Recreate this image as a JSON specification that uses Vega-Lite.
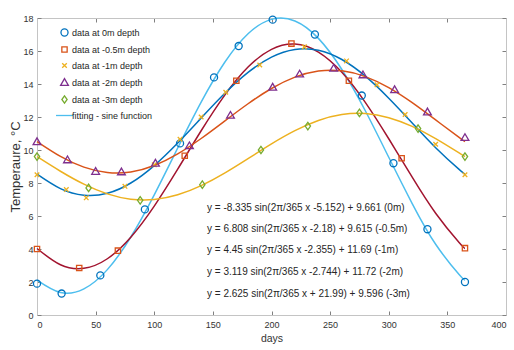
{
  "$schema": "https://vega.github.io/schema/vega-lite/v6.json",
  "width": 469,
  "height": 297,
  "autosize": {"type": "none"},
  "padding": {"left": 37, "top": 18, "right": 8, "bottom": 35},
  "background": "white",
  "config": {
    "font": "Liberation Sans",
    "view": {"stroke": null},
    "axis": {
      "grid": false,
      "domainColor": "#c4c4c4",
      "tickColor": "#808080",
      "labelColor": "#333333",
      "labelFontSize": 9,
      "labelFont": "Liberation Sans",
      "titleFont": "Liberation Sans",
      "titleFontWeight": "normal",
      "titleColor": "#333333",
      "tickSize": -4
    }
  },
  "datasets": {
    "points": [
      {"series": "data at 0m depth", "day": 0, "temp": 1.9},
      {"series": "data at 0m depth", "day": 21, "temp": 1.3},
      {"series": "data at 0m depth", "day": 54, "temp": 2.4},
      {"series": "data at 0m depth", "day": 92, "temp": 6.4},
      {"series": "data at 0m depth", "day": 122, "temp": 10.4},
      {"series": "data at 0m depth", "day": 151, "temp": 14.4},
      {"series": "data at 0m depth", "day": 172, "temp": 16.3},
      {"series": "data at 0m depth", "day": 201, "temp": 17.9},
      {"series": "data at 0m depth", "day": 237, "temp": 17.0},
      {"series": "data at 0m depth", "day": 277, "temp": 13.3},
      {"series": "data at 0m depth", "day": 304, "temp": 9.2},
      {"series": "data at 0m depth", "day": 333, "temp": 5.2},
      {"series": "data at 0m depth", "day": 365, "temp": 2.0},
      {"series": "data at -0.5m depth", "day": 0, "temp": 4.0},
      {"series": "data at -0.5m depth", "day": 36, "temp": 2.85},
      {"series": "data at -0.5m depth", "day": 69, "temp": 3.9},
      {"series": "data at -0.5m depth", "day": 126, "temp": 9.65},
      {"series": "data at -0.5m depth", "day": 170, "temp": 14.2},
      {"series": "data at -0.5m depth", "day": 217, "temp": 16.45},
      {"series": "data at -0.5m depth", "day": 266, "temp": 14.2},
      {"series": "data at -0.5m depth", "day": 311, "temp": 9.5},
      {"series": "data at -0.5m depth", "day": 365, "temp": 4.05},
      {"series": "data at -1m depth", "day": 0, "temp": 8.5},
      {"series": "data at -1m depth", "day": 25, "temp": 7.6},
      {"series": "data at -1m depth", "day": 42, "temp": 7.1},
      {"series": "data at -1m depth", "day": 75, "temp": 7.8},
      {"series": "data at -1m depth", "day": 100, "temp": 9.1},
      {"series": "data at -1m depth", "day": 122, "temp": 10.65},
      {"series": "data at -1m depth", "day": 140, "temp": 12.0},
      {"series": "data at -1m depth", "day": 161, "temp": 13.5},
      {"series": "data at -1m depth", "day": 190, "temp": 15.15},
      {"series": "data at -1m depth", "day": 228, "temp": 16.25},
      {"series": "data at -1m depth", "day": 264, "temp": 15.4},
      {"series": "data at -1m depth", "day": 290, "temp": 13.95},
      {"series": "data at -1m depth", "day": 314, "temp": 12.15},
      {"series": "data at -1m depth", "day": 340, "temp": 10.35},
      {"series": "data at -1m depth", "day": 365, "temp": 8.5},
      {"series": "data at -2m depth", "day": 0, "temp": 10.5},
      {"series": "data at -2m depth", "day": 26, "temp": 9.4},
      {"series": "data at -2m depth", "day": 50, "temp": 8.7},
      {"series": "data at -2m depth", "day": 72, "temp": 8.67},
      {"series": "data at -2m depth", "day": 101, "temp": 9.2},
      {"series": "data at -2m depth", "day": 130, "temp": 10.25},
      {"series": "data at -2m depth", "day": 165, "temp": 12.1},
      {"series": "data at -2m depth", "day": 201, "temp": 13.8},
      {"series": "data at -2m depth", "day": 224, "temp": 14.6},
      {"series": "data at -2m depth", "day": 253, "temp": 14.95},
      {"series": "data at -2m depth", "day": 278, "temp": 14.55},
      {"series": "data at -2m depth", "day": 305, "temp": 13.65},
      {"series": "data at -2m depth", "day": 333, "temp": 12.3},
      {"series": "data at -2m depth", "day": 365, "temp": 10.75},
      {"series": "data at -3m depth", "day": 0, "temp": 9.6},
      {"series": "data at -3m depth", "day": 44, "temp": 7.7},
      {"series": "data at -3m depth", "day": 88, "temp": 6.95},
      {"series": "data at -3m depth", "day": 141, "temp": 7.9},
      {"series": "data at -3m depth", "day": 191, "temp": 10.0},
      {"series": "data at -3m depth", "day": 231, "temp": 11.45},
      {"series": "data at -3m depth", "day": 275, "temp": 12.25},
      {"series": "data at -3m depth", "day": 325, "temp": 11.3},
      {"series": "data at -3m depth", "day": 365, "temp": 9.6}
    ],
    "fits": [
      {"fit": "0m", "day": 0, "temp": 2.118}, {"fit": "0m", "day": 20, "temp": 1.364}, {"fit": "0m", "day": 40, "temp": 1.583}, {"fit": "0m", "day": 60, "temp": 2.75}, {"fit": "0m", "day": 80, "temp": 4.728}, {"fit": "0m", "day": 100, "temp": 7.286}, {"fit": "0m", "day": 120, "temp": 10.122}, {"fit": "0m", "day": 140, "temp": 12.903}, {"fit": "0m", "day": 160, "temp": 15.303}, {"fit": "0m", "day": 180, "temp": 17.044}, {"fit": "0m", "day": 200, "temp": 17.916}, {"fit": "0m", "day": 220, "temp": 17.82}, {"fit": "0m", "day": 240, "temp": 16.766}, {"fit": "0m", "day": 260, "temp": 14.878}, {"fit": "0m", "day": 280, "temp": 12.378}, {"fit": "0m", "day": 300, "temp": 9.559}, {"fit": "0m", "day": 320, "temp": 6.753}, {"fit": "0m", "day": 340, "temp": 4.287}, {"fit": "0m", "day": 360, "temp": 2.455}, {"fit": "0m", "day": 365, "temp": 2.118},
      {"fit": "-0.5m", "day": 0, "temp": 4.03}, {"fit": "-0.5m", "day": 20, "temp": 3.044}, {"fit": "-0.5m", "day": 40, "temp": 2.828}, {"fit": "-0.5m", "day": 60, "temp": 3.409}, {"fit": "-0.5m", "day": 80, "temp": 4.718}, {"fit": "-0.5m", "day": 100, "temp": 6.601}, {"fit": "-0.5m", "day": 120, "temp": 8.838}, {"fit": "-0.5m", "day": 140, "temp": 11.167}, {"fit": "-0.5m", "day": 160, "temp": 13.313}, {"fit": "-0.5m", "day": 180, "temp": 15.027}, {"fit": "-0.5m", "day": 200, "temp": 16.102}, {"fit": "-0.5m", "day": 220, "temp": 16.418}, {"fit": "-0.5m", "day": 240, "temp": 15.936}, {"fit": "-0.5m", "day": 260, "temp": 14.711}, {"fit": "-0.5m", "day": 280, "temp": 12.889}, {"fit": "-0.5m", "day": 300, "temp": 10.682}, {"fit": "-0.5m", "day": 320, "temp": 8.351}, {"fit": "-0.5m", "day": 340, "temp": 6.167}, {"fit": "-0.5m", "day": 360, "temp": 4.388}, {"fit": "-0.5m", "day": 365, "temp": 4.03},
      {"fit": "-1m", "day": 0, "temp": 8.541}, {"fit": "-1m", "day": 20, "temp": 7.663}, {"fit": "-1m", "day": 40, "temp": 7.26}, {"fit": "-1m", "day": 60, "temp": 7.376}, {"fit": "-1m", "day": 80, "temp": 8.0}, {"fit": "-1m", "day": 100, "temp": 9.056}, {"fit": "-1m", "day": 120, "temp": 10.42}, {"fit": "-1m", "day": 140, "temp": 11.934}, {"fit": "-1m", "day": 160, "temp": 13.42}, {"fit": "-1m", "day": 180, "temp": 14.701}, {"fit": "-1m", "day": 200, "temp": 15.631}, {"fit": "-1m", "day": 220, "temp": 16.097}, {"fit": "-1m", "day": 240, "temp": 16.046}, {"fit": "-1m", "day": 260, "temp": 15.484}, {"fit": "-1m", "day": 280, "temp": 14.477}, {"fit": "-1m", "day": 300, "temp": 13.142}, {"fit": "-1m", "day": 320, "temp": 11.637}, {"fit": "-1m", "day": 340, "temp": 10.139}, {"fit": "-1m", "day": 360, "temp": 8.822}, {"fit": "-1m", "day": 365, "temp": 8.541},
      {"fit": "-2m", "day": 0, "temp": 10.512}, {"fit": "-2m", "day": 20, "temp": 9.613}, {"fit": "-2m", "day": 40, "temp": 8.96}, {"fit": "-2m", "day": 60, "temp": 8.632}, {"fit": "-2m", "day": 80, "temp": 8.666}, {"fit": "-2m", "day": 100, "temp": 9.059}, {"fit": "-2m", "day": 120, "temp": 9.763}, {"fit": "-2m", "day": 140, "temp": 10.697}, {"fit": "-2m", "day": 160, "temp": 11.752}, {"fit": "-2m", "day": 180, "temp": 12.803}, {"fit": "-2m", "day": 200, "temp": 13.727}, {"fit": "-2m", "day": 220, "temp": 14.415}, {"fit": "-2m", "day": 240, "temp": 14.787}, {"fit": "-2m", "day": 260, "temp": 14.799}, {"fit": "-2m", "day": 280, "temp": 14.449}, {"fit": "-2m", "day": 300, "temp": 13.78}, {"fit": "-2m", "day": 320, "temp": 12.869}, {"fit": "-2m", "day": 340, "temp": 11.823}, {"fit": "-2m", "day": 360, "temp": 10.764}, {"fit": "-2m", "day": 365, "temp": 10.512},
      {"fit": "-3m", "day": 0, "temp": 9.599}, {"fit": "-3m", "day": 20, "temp": 8.713}, {"fit": "-3m", "day": 40, "temp": 7.93}, {"fit": "-3m", "day": 60, "temp": 7.343}, {"fit": "-3m", "day": 80, "temp": 7.021}, {"fit": "-3m", "day": 100, "temp": 7.0}, {"fit": "-3m", "day": 120, "temp": 7.284}, {"fit": "-3m", "day": 140, "temp": 7.84}, {"fit": "-3m", "day": 160, "temp": 8.601}, {"fit": "-3m", "day": 180, "temp": 9.48}, {"fit": "-3m", "day": 200, "temp": 10.372}, {"fit": "-3m", "day": 220, "temp": 11.172}, {"fit": "-3m", "day": 240, "temp": 11.789}, {"fit": "-3m", "day": 260, "temp": 12.147}, {"fit": "-3m", "day": 280, "temp": 12.206}, {"fit": "-3m", "day": 300, "temp": 11.96}, {"fit": "-3m", "day": 320, "temp": 11.434}, {"fit": "-3m", "day": 340, "temp": 10.694}, {"fit": "-3m", "day": 360, "temp": 9.825}, {"fit": "-3m", "day": 365, "temp": 9.599}
    ],
    "equations": [
      {"label": "y = -8.335 sin(2π/365 x -5.152) + 9.661 (0m)", "day": 145, "temp": 6.47},
      {"label": "y = 6.808 sin(2π/365 x -2.18) + 9.615 (-0.5m)", "day": 145, "temp": 5.19},
      {"label": "y = 4.45 sin(2π/365 x -2.355) + 11.69 (-1m)", "day": 145, "temp": 3.94},
      {"label": "y = 3.119 sin(2π/365 x -2.744) + 11.72 (-2m)", "day": 145, "temp": 2.62},
      {"label": "y = 2.625 sin(2π/365 x + 21.99) + 9.596 (-3m)", "day": 145, "temp": 1.27}
    ]
  },
  "layer": [
    {
      "data": {"name": "fits"},
      "mark": {"type": "line", "interpolate": "natural", "strokeWidth": 1.5},
      "encoding": {
        "x": {"field": "day", "type": "quantitative", "scale": {"domain": [0, 400], "nice": false},
              "axis": {"orient": "bottom", "values": [0, 50, 100, 150, 200, 250, 300, 350, 400], "title": "days", "titleFontSize": 10.5, "labelPadding": 9, "titlePadding": 4}},
        "y": {"field": "temp", "type": "quantitative", "scale": {"domain": [0, 18], "nice": false},
              "axis": {"orient": "left", "values": [0, 2, 4, 6, 8, 10, 12, 14, 16, 18], "title": "Temperaure, °C", "titleFontSize": 13, "labelPadding": 8, "titlePadding": 0}},
        "color": {"field": "fit", "type": "nominal",
                  "scale": {"domain": ["0m", "-0.5m", "-1m", "-2m", "-3m"], "range": ["#4DBEEE", "#A2142F", "#0072BD", "#D95319", "#EDB120"]},
                  "legend": null}
      }
    },
    {
      "data": {"name": "points"},
      "mark": {"type": "point", "filled": false, "size": 50, "strokeWidth": 1.3, "opacity": 1},
      "encoding": {
        "x": {"field": "day", "type": "quantitative",
              "axis": {"orient": "top", "values": [0, 50, 100, 150, 200, 250, 300, 350, 400], "labels": false, "title": null}},
        "y": {"field": "temp", "type": "quantitative",
              "axis": {"orient": "right", "values": [0, 2, 4, 6, 8, 10, 12, 14, 16, 18], "labels": false, "title": null}},
        "color": {"field": "series", "type": "nominal",
                  "scale": {"domain": ["data at 0m depth", "data at -0.5m depth", "data at -1m depth", "data at -2m depth", "data at -3m depth", "fitting - sine function"],
                            "range": ["#0072BD", "#D95319", "#EDB120", "#7E2F8E", "#77AC30", "#4DBEEE"]},
                  "legend": {"title": null, "orient": "none", "legendX": 23, "legendY": 10, "padding": 0, "labelFontSize": 9, "labelColor": "#262626", "labelFont": "Liberation Sans", "symbolSize": 50, "symbolStrokeWidth": 1.3, "rowPadding": 5, "labelOffset": 3}},
        "shape": {"field": "series", "type": "nominal",
                  "scale": {"domain": ["data at 0m depth", "data at -0.5m depth", "data at -1m depth", "data at -2m depth", "data at -3m depth", "fitting - sine function"],
                            "range": ["circle", "M-0.75,-0.75H0.75V0.75H-0.75Z", "M-0.65,-0.65L0.65,0.65M-0.65,0.65L0.65,-0.65", "M0,-1.1L1.1,0.8L-1.1,0.8Z", "M0,-1.05L0.75,0L0,1.05L-0.75,0Z", "M-2.4,0L2.4,0"]},
                  "legend": {"title": null, "orient": "none", "legendX": 23, "legendY": 10, "padding": 0, "labelFontSize": 9, "labelColor": "#262626", "labelFont": "Liberation Sans", "symbolSize": 50, "symbolStrokeWidth": 1.3, "rowPadding": 5, "labelOffset": 3}}
      }
    },
    {
      "data": {"name": "equations"},
      "mark": {"type": "text", "align": "left", "baseline": "middle", "fontSize": 10, "font": "Liberation Sans", "color": "#262626"},
      "encoding": {
        "x": {"field": "day", "type": "quantitative", "axis": null},
        "y": {"field": "temp", "type": "quantitative", "axis": null},
        "text": {"field": "label", "type": "nominal"}
      }
    }
  ],
  "resolve": {
    "scale": {"color": "independent", "shape": "independent"},
    "axis": {"x": "independent", "y": "independent"}
  }
}
